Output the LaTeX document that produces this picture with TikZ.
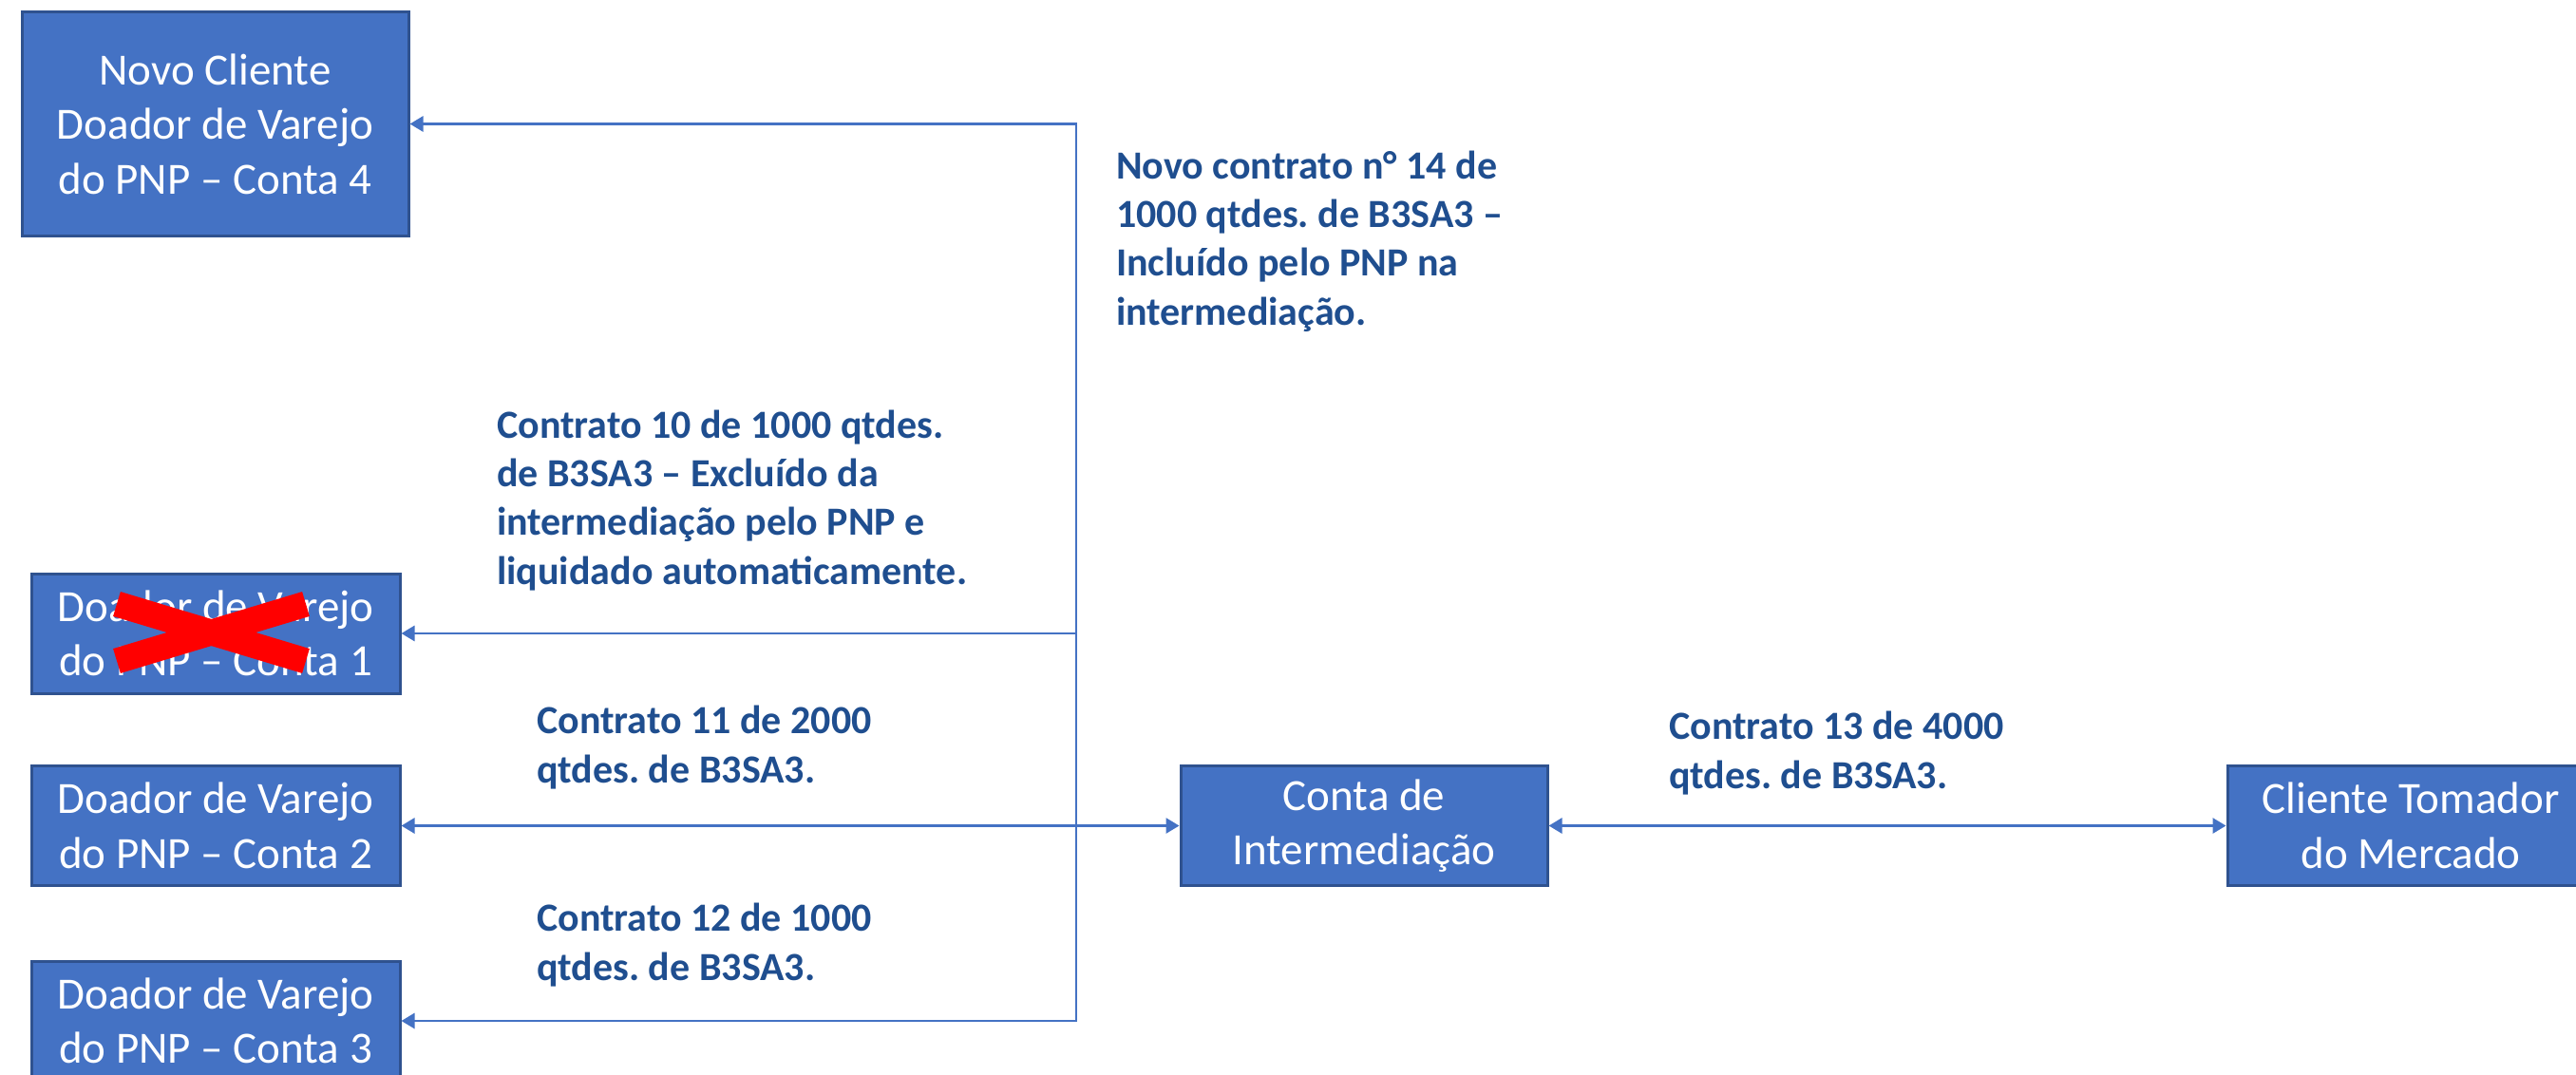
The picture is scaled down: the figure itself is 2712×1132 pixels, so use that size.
\documentclass[tikz,border=0pt]{standalone}
\usepackage{fontspec}
\setmainfont{Carlito}
\usetikzlibrary{arrows.meta}
\definecolor{boxblue}{HTML}{4472C4}
\definecolor{boxedge}{HTML}{2F528F}
\definecolor{labelblue}{HTML}{1F4E8F}
\frenchspacing
\begin{document}
\begin{tikzpicture}[x=1pt,y=-1pt,
  box/.style={draw=boxedge, line width=3pt, fill=boxblue, text=white, align=center,
    inner sep=0pt, font=\fontsize{47}{57.5}\selectfont},
  smallbox/.style={box, minimum width=388pt, minimum height=126pt},
  lbl/.style={text=labelblue, align=left, inner sep=0pt, anchor=base west,
    font=\fontsize{42}{51.3}\selectfont\bfseries},
  conn/.style={draw=boxblue, line width=2.8pt},
  tip/.tip={Triangle[length=14pt,width=16pt]},
  cross/.style={draw=red, line width=27pt}]
\useasboundingbox (0,0) rectangle (2712,1132);

\node[box, minimum width=407pt, minimum height=235pt] (b4) at (226.5,130.5) {Novo Cliente\\Doador de Varejo\\do PNP – Conta 4};
\node[smallbox] (b1) at (227,667) {Doador de Varejo\\do PNP – Conta 1};
\node[smallbox] (b2) at (227,869.5) {Doador de Varejo\\do PNP – Conta 2};
\node[smallbox] (b3) at (227,1075) {Doador de Varejo\\do PNP – Conta 3};
\node[smallbox, minimum width=386pt] (conta) at (1436,869.5) {Conta de\\Intermediação};
\node[smallbox, minimum width=386pt] (cli) at (2538,869.5) {Cliente Tomador\\do Mercado};

\coordinate (j) at (1133,869.5);
\draw[conn, tip-tip] (b2.east) -- (conta.west);
\draw[conn, -tip] (j) |- (b4.east);
\draw[conn, -tip] (j) |- (b1.east);
\draw[conn, -tip] (j) |- (b3.east);
\draw[conn, tip-tip] (conta.east) -- (cli.west);

\draw[cross] (123,636) -- (322,696);
\draw[cross] (123,696) -- (322,636);

% anchor "base" of a multi-line node is the baseline of its last line
\node[lbl] (l14) at (1175,342) {Novo contrato n° 14 de\\1000 qtdes. de B3SA3 –\\Incluído pelo PNP na\\intermediação.};
\node[lbl] (l10) at (523,615) {Contrato 10 de 1000 qtdes.\\de B3SA3 – Excluído da\\intermediação pelo PNP e\\liquidado automaticamente.};
\node[lbl] (l11) at (565,824) {Contrato 11 de 2000\\qtdes. de B3SA3.};
\node[lbl] (l12) at (565,1032) {Contrato 12 de 1000\\qtdes. de B3SA3.};
\node[lbl] (l13) at (1757,830) {Contrato 13 de 4000\\qtdes. de B3SA3.};
\end{tikzpicture}
\end{document}
